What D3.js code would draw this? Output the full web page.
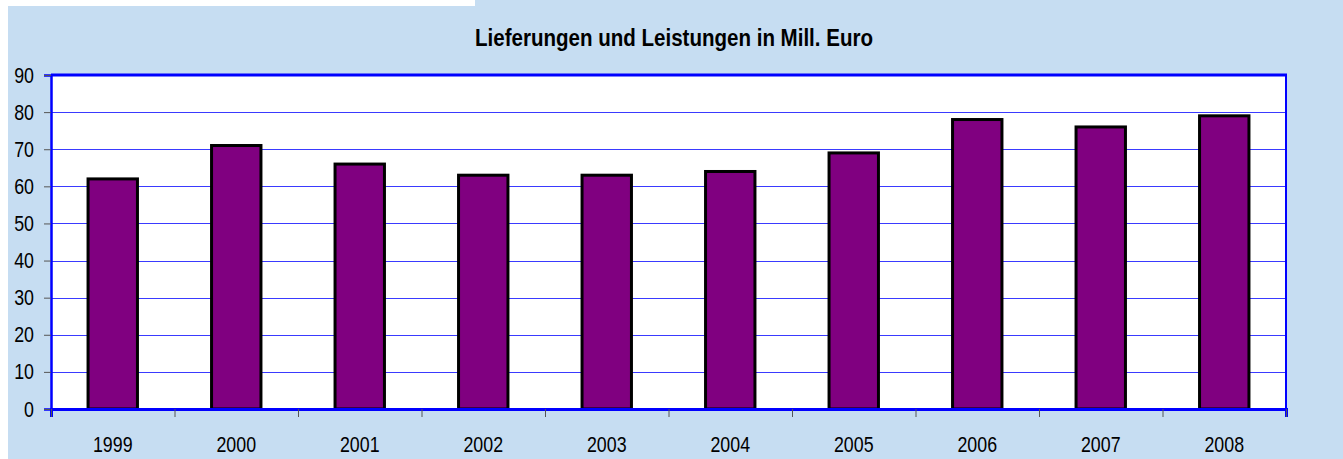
<!DOCTYPE html>
<html>
<head>
<meta charset="utf-8">
<script src="https://cdn.jsdelivr.net/npm/d3@7"></script>
<style>
  body { margin: 0; background: #fff; }
  svg { display: block; }
  .tick text { font-family: "Liberation Sans Narrow", "Liberation Sans", Arial, sans-serif; }
</style>
</head>
<body>
<div id="chart"></div>
<script>
const years = ["1999", "2000", "2001", "2002", "2003", "2004", "2005", "2006", "2007", "2008"];
const values = [62, 71, 66, 63, 63, 64, 69, 78, 76, 79];
const yTicks = [0, 10, 20, 30, 40, 50, 60, 70, 80, 90];
const title = "Lieferungen und Leistungen in Mill. Euro";

const w = 1343;
const h = 459;
const margin = { top: 75, right: 57, bottom: 50, left: 51 };
const digitWidth = 9.9; // the source uses a narrow face, squeeze text to match

const svg = d3.select("#chart").append("svg").attr("width", w).attr("height", h);

// background with the white strips top-left
svg.append("rect").attr("width", w).attr("height", h).attr("fill", "#fff");
svg.append("rect").attr("x", 8).attr("y", 0).attr("width", w - 8).attr("height", h).attr("fill", "#c6ddf2");
svg.append("rect").attr("x", 0).attr("y", 0).attr("width", 475).attr("height", 6).attr("fill", "#fff");

const x = d3.scaleBand()
  .domain(years)
  .range([margin.left, w - margin.right])
  .paddingInner(0.6)
  .paddingOuter(0.3);

const xEdges = d3.scaleLinear()
  .domain([0, years.length])
  .range([margin.left, w - margin.right]);

const y = d3.scaleLinear()
  .domain([0, 90])
  .range([h - margin.bottom, margin.top]);

// plot area
svg.append("rect")
  .attr("x", margin.left)
  .attr("y", margin.top)
  .attr("width", w - margin.left - margin.right)
  .attr("height", h - margin.top - margin.bottom)
  .attr("fill", "#fff");

// gridlines
svg.append("g")
  .selectAll("line")
  .data(yTicks.filter((t) => t > 0 && t < 90))
  .join("line")
  .attr("x1", margin.left)
  .attr("x2", w - margin.right)
  .attr("y1", (d) => Math.round(y(d)) + 0.5)
  .attr("y2", (d) => Math.round(y(d)) + 0.5)
  .attr("stroke", "#3a3aff")
  .attr("stroke-width", 1);

// bars
svg.append("g")
  .selectAll("rect")
  .data(values)
  .join("rect")
  .attr("x", (d, i) => x(years[i]))
  .attr("y", (d) => y(d))
  .attr("width", x.bandwidth())
  .attr("height", (d) => y(0) - y(d))
  .attr("fill", "#800080")
  .attr("stroke", "#000")
  .attr("stroke-width", 3);

// frame: top and right border
svg.append("line")
  .attr("x1", margin.left).attr("x2", w - margin.right + 1)
  .attr("y1", margin.top).attr("y2", margin.top)
  .attr("stroke", "#0000ff").attr("stroke-width", 3);
svg.append("line")
  .attr("x1", w - margin.right).attr("x2", w - margin.right)
  .attr("y1", margin.top).attr("y2", y(0))
  .attr("stroke", "#0000ff").attr("stroke-width", 2);

// y axis
const yAxis = svg.append("g")
  .attr("transform", `translate(${margin.left},0)`)
  .call(d3.axisLeft(y).tickValues(yTicks).tickSize(7).tickPadding(10));
yAxis.select(".domain").attr("stroke", "#0000ff").attr("stroke-width", 2.5);
yAxis.selectAll(".tick line").attr("stroke", "#555");
yAxis.selectAll(".tick text")
  .attr("font-size", 22)
  .attr("fill", "#000")
  .attr("textLength", (d) => String(d).length * digitWidth)
  .attr("lengthAdjust", "spacingAndGlyphs");

// x axis: ticks at category edges
const xAxis = svg.append("g")
  .attr("transform", `translate(0,${y(0)})`)
  .call(d3.axisBottom(xEdges).tickValues(d3.range(years.length + 1)).tickSize(8).tickFormat(""));
xAxis.select(".domain").attr("stroke", "#0000ff").attr("stroke-width", 3);
xAxis.selectAll(".tick line").attr("stroke", "#555");

svg.append("g")
  .selectAll("text")
  .data(years)
  .join("text")
  .attr("x", (d) => x(d) + x.bandwidth() / 2)
  .attr("y", 452)
  .attr("text-anchor", "middle")
  .attr("font-family", "'Liberation Sans Narrow', 'Liberation Sans', Arial, sans-serif")
  .attr("font-size", 22)
  .attr("fill", "#000")
  .attr("textLength", (d) => d.length * digitWidth)
  .attr("lengthAdjust", "spacingAndGlyphs")
  .text((d) => d);

// title
svg.append("text")
  .attr("x", 674)
  .attr("y", 46)
  .attr("text-anchor", "middle")
  .attr("font-family", "'Liberation Sans Narrow', 'Liberation Sans', Arial, sans-serif")
  .attr("font-weight", "bold")
  .attr("font-size", 23)
  .attr("fill", "#000")
  .attr("textLength", 398)
  .attr("lengthAdjust", "spacingAndGlyphs")
  .text(title);
</script>
</body>
</html>
